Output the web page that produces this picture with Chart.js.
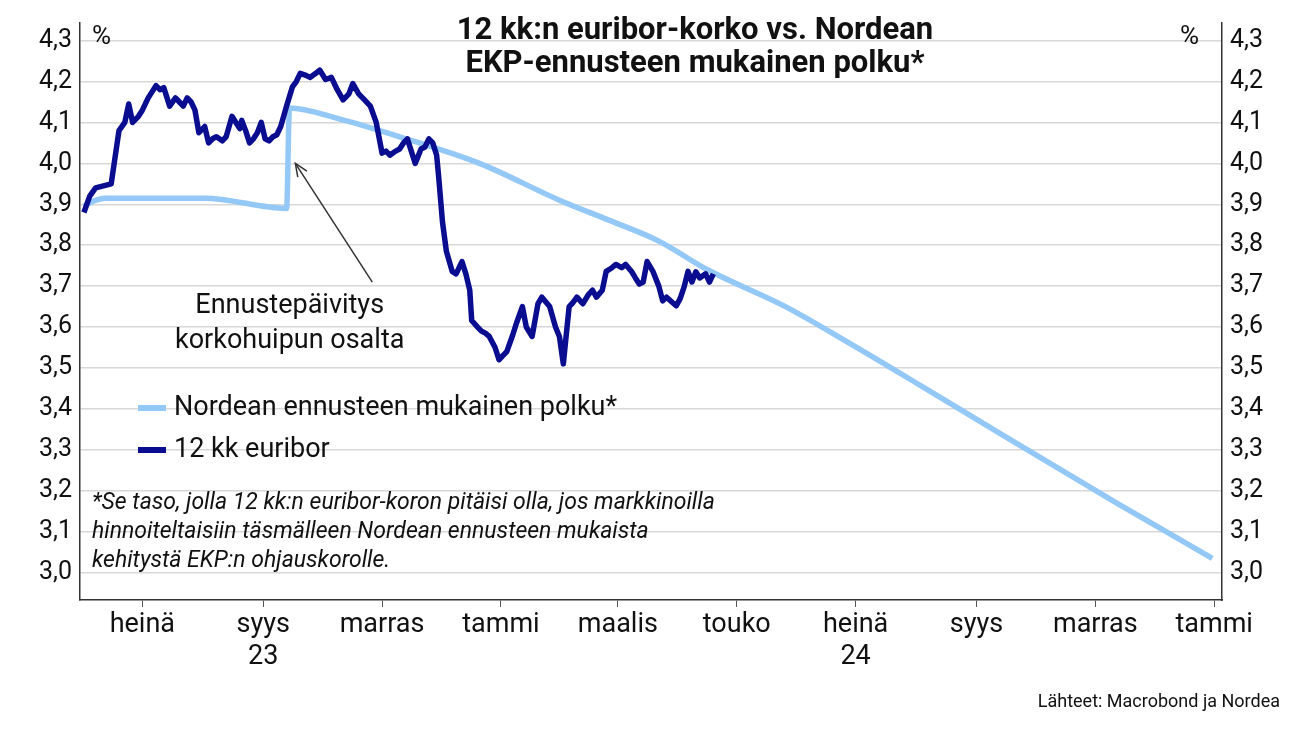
<!DOCTYPE html>
<html><head><meta charset="utf-8">
<script src="https://cdn.jsdelivr.net/npm/chart.js@4"></script>
<style>
body{margin:0;background:#fff;font-family:Roboto,"Noto Sans",sans-serif;}
#wrap{position:relative;width:1300px;height:731px;}
.t{position:absolute;color:#111;white-space:nowrap;}
</style></head><body>
<div id="wrap"><canvas id="c" width="1300" height="731"></canvas>
<div class="t" style="left:300px;top:12px;width:790px;text-align:center;font-weight:bold;font-size:31px;line-height:33px;">12 kk:n euribor-korko vs. Nordean<br>EKP-ennusteen mukainen polku*</div>
<div class="t" style="left:92px;top:20px;font-size:26px;">%</div>
<div class="t" style="left:1180px;top:20px;font-size:26px;">%</div>
<div class="t" style="left:175px;top:287px;font-size:27px;line-height:35px;text-align:center;">Ennustepäivitys<br>korkohuipun osalta</div>
<div class="t" style="left:138px;top:390px;font-size:27px;"><span style="display:inline-block;width:28px;height:6px;background:#93c8f7;vertical-align:middle;margin-right:8px"></span>Nordean ennusteen mukainen polku*</div>
<div class="t" style="left:138px;top:432px;font-size:27px;"><span style="display:inline-block;width:28px;height:6px;background:#0a0d8f;vertical-align:middle;margin-right:8px"></span>12 kk euribor</div>
<div class="t" style="left:92px;top:487px;font-size:23px;line-height:29px;font-style:italic;">*Se taso, jolla 12 kk:n euribor-koron pitäisi olla, jos markkinoilla<br>hinnoiteltaisiin täsmälleen Nordean ennusteen mukaista<br>kehitystä EKP:n ohjauskorolle.</div>
<div class="t" style="right:20px;top:690px;font-size:18px;">Lähteet: Macrobond ja Nordea</div>
</div>
<script>
// x = days since 1 Jul 2023
const tickDays=[0,62,123,184,244,305,366,428,489,550];
const tickLabels=[['heinä'],['syys','23'],['marras'],['tammi'],['maalis'],['touko'],['heinä','24'],['syys'],['marras'],['tammi']];
const yTicks=[3.0,3.1,3.2,3.3,3.4,3.5,3.6,3.7,3.8,3.9,4.0,4.1,4.2,4.3];
const euriborDays=[-30,-27,-24,-20,-16,-12,-9,-7,-5,-2,0,3,7,9,11,14,17,19,21,23,25,27,29,32,34,36,38,41,43,46,48,50,51,53,55,57,59,61,63,65,67,69,71,74,77,79,81,84,86,89,91,94,97,100,103,106,108,111,114,117,120,123,125,127,130,132,134,136,138,140,143,145,147,149,151,152,154,156,159,161,164,166,168,169,172,174,176,178,181,183,185,187,190,192,195,197,200,203,205,209,212,214,216,219,221,223,226,229,231,233,236,238,241,243,246,248,251,253,255,257,259,262,265,267,269,272,274,276,278,280,282,284,286,289,291,293];
const euriborVals=[3.88,3.92,3.94,3.945,3.95,4.08,4.10,4.145,4.10,4.115,4.13,4.16,4.19,4.18,4.185,4.14,4.16,4.15,4.14,4.16,4.15,4.13,4.075,4.09,4.05,4.06,4.065,4.055,4.065,4.115,4.10,4.085,4.105,4.08,4.05,4.06,4.075,4.10,4.06,4.055,4.065,4.07,4.09,4.14,4.187,4.20,4.22,4.215,4.21,4.22,4.228,4.205,4.21,4.18,4.155,4.17,4.195,4.17,4.155,4.14,4.10,4.025,4.03,4.02,4.03,4.035,4.05,4.06,4.03,4.0,4.035,4.04,4.06,4.05,4.02,3.97,3.857,3.785,3.736,3.73,3.76,3.73,3.69,3.616,3.60,3.59,3.585,3.577,3.55,3.52,3.53,3.54,3.58,3.61,3.65,3.60,3.577,3.657,3.673,3.65,3.60,3.577,3.51,3.65,3.66,3.673,3.657,3.68,3.69,3.673,3.69,3.736,3.745,3.753,3.745,3.753,3.736,3.72,3.705,3.71,3.76,3.736,3.70,3.664,3.673,3.66,3.652,3.67,3.698,3.736,3.71,3.735,3.72,3.73,3.71,3.73];
const nordeaDays=[-30,-25,-19,32,74,75.5,100,132,173,214,240,265,290,330,363,400,440,500,549];
const nordeaVals=[3.895,3.908,3.915,3.915,3.89,4.135,4.11,4.065,4.0,3.91,3.86,3.81,3.74,3.65,3.56,3.455,3.34,3.17,3.035];
const pts=(d,v)=>d.map((x,i)=>({x,y:v[i]}));
const arrow={id:'arrow',afterDatasetsDraw(ch){const {ctx,scales:{x,y}}=ch;
 const x1=x.getPixelForValue(118),y1=y.getPixelForValue(3.71),x2=x.getPixelForValue(78.5),y2=y.getPixelForValue(4.0);
 ctx.save();ctx.strokeStyle='#333';ctx.lineWidth=1.5;ctx.beginPath();ctx.moveTo(x1,y1);ctx.lineTo(x2,y2);ctx.stroke();
 const a=Math.atan2(y2-y1,x2-x1);ctx.beginPath();ctx.moveTo(x2-14*Math.cos(a-0.4),y2-14*Math.sin(a-0.4));ctx.lineTo(x2,y2);ctx.lineTo(x2-14*Math.cos(a+0.4),y2-14*Math.sin(a+0.4));ctx.stroke();ctx.restore();}};
const fmt=v=>v.toFixed(1).replace('.',',');
new Chart(document.getElementById('c'),{type:'line',
data:{datasets:[
 {data:pts(nordeaDays,nordeaVals),borderColor:'#93c8f7',borderWidth:5.5,pointRadius:0,cubicInterpolationMode:'monotone',order:2},
 {data:pts(euriborDays,euriborVals),borderColor:'#0a0d8f',borderWidth:5.5,pointRadius:0,tension:0,borderJoinStyle:'round',order:1}]},
options:{responsive:false,animation:false,layout:{padding:{top:0,right:0,left:0,bottom:0}},
 plugins:{legend:{display:false},tooltip:{enabled:false}},
 scales:{
  x:{type:'linear',min:-32,max:554,afterBuildTicks:s=>{s.ticks=tickDays.map(v=>({value:v}));},afterFit:s=>{s.height=131;},
   grid:{display:true,drawOnChartArea:false,drawTicks:true,tickLength:7,color:'#555'},border:{color:'#333',width:1.5},
   ticks:{autoSkip:false,maxRotation:0,color:'#111',font:{size:27,family:'Roboto'},padding:2,callback:(v,i)=>tickLabels[i]}},
  y:{position:'left',min:2.933,max:4.343,afterBuildTicks:s=>{s.ticks=yTicks.map(v=>({value:v}));},afterFit:s=>{s.width=80;},
   grid:{color:'#d8d8d8',lineWidth:1.5,drawTicks:false},border:{color:'#333',width:1.5},
   ticks:{color:'#111',font:{size:25,family:'Roboto'},padding:8,callback:v=>fmt(v)}},
  y2:{position:'right',min:2.933,max:4.343,afterBuildTicks:s=>{s.ticks=yTicks.map(v=>({value:v}));},afterFit:s=>{s.width=78;},
   grid:{display:false,drawTicks:false},border:{color:'#333',width:1.5},
   ticks:{color:'#111',font:{size:25,family:'Roboto'},padding:8,callback:v=>fmt(v)}}
 }},plugins:[arrow]});
</script></body></html>
